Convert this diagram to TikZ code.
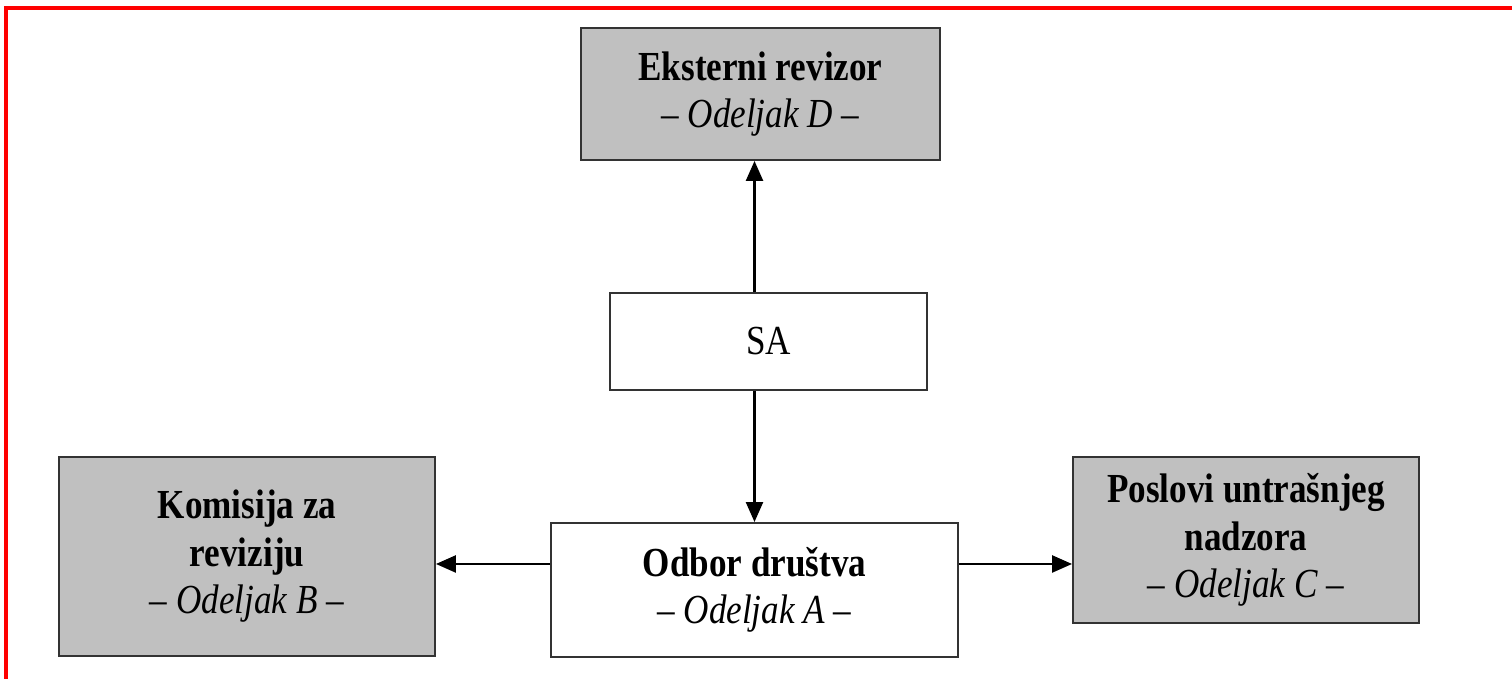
\documentclass[tikz,border=0pt]{standalone}
\usepackage{fontspec}
\setmainfont[FakeStretch=0.85]{Liberation Serif}
\usetikzlibrary{arrows.meta, positioning, calc}
\definecolor{boxgray}{HTML}{C0C0C0}
\definecolor{framered}{HTML}{FF0000}
\tikzset{
  unit/.style={
    rectangle, draw=black!80, fill=white, line width=1.1pt,
    align=center, font=\fontsize{23.5}{27}\selectfont, inner sep=2pt,
  },
  unit gray/.style={unit, fill=boxgray},
  arrow/.style={
    -{Triangle[length=4mm, width=3.4mm]}, line width=1.4pt, draw=black,
  },
  frame/.style={draw=framered, line width=0.08cm},
}
\begin{document}
\begin{tikzpicture}

  \useasboundingbox (0,0) rectangle (30.24,13.58);
  \draw[frame] (0.11,0) -- (0.11,13.41) -- (30.24,13.41);

  \node[unit gray, minimum width=7.18cm, minimum height=2.64cm] (ext) at (15.21,11.70)
    {\textbf{Eksterni revizor}\\\textit{\textendash{} Odeljak D \textendash}};

  \node[unit, minimum width=6.34cm, minimum height=1.94cm] (sa) at (15.37,6.75) {SA};

  \node[unit, minimum width=8.14cm, minimum height=2.68cm] (odbor) at (15.09,1.78)
    {\textbf{Odbor društva}\\\textit{\textendash{} Odeljak A \textendash}};

  \node[unit gray, minimum width=7.52cm, minimum height=3.98cm] (kom) at (4.94,2.45)
    {\textbf{Komisija za}\\\textbf{reviziju}\\\textit{\textendash{} Odeljak B \textendash}};

  \node[unit gray, minimum width=6.92cm, minimum height=3.32cm] (posl) at (24.92,2.78)
    {\textbf{Poslovi untrašnjeg}\\\textbf{nadzora}\\\textit{\textendash{} Odeljak C \textendash}};

  % connectors
  \coordinate (aL) at ($(odbor.west)+(0,0.52)$);
  \coordinate (aR) at ($(odbor.east)+(0,0.52)$);
  \draw[arrow] (sa.north -| odbor.north) -- (ext.south -| odbor.north);
  \draw[arrow] (sa.south -| odbor.north) -- (odbor.north);
  \draw[arrow] (aL) -- (aL -| kom.east);
  \draw[arrow] (aR) -- (aR -| posl.west);

\end{tikzpicture}
\end{document}
